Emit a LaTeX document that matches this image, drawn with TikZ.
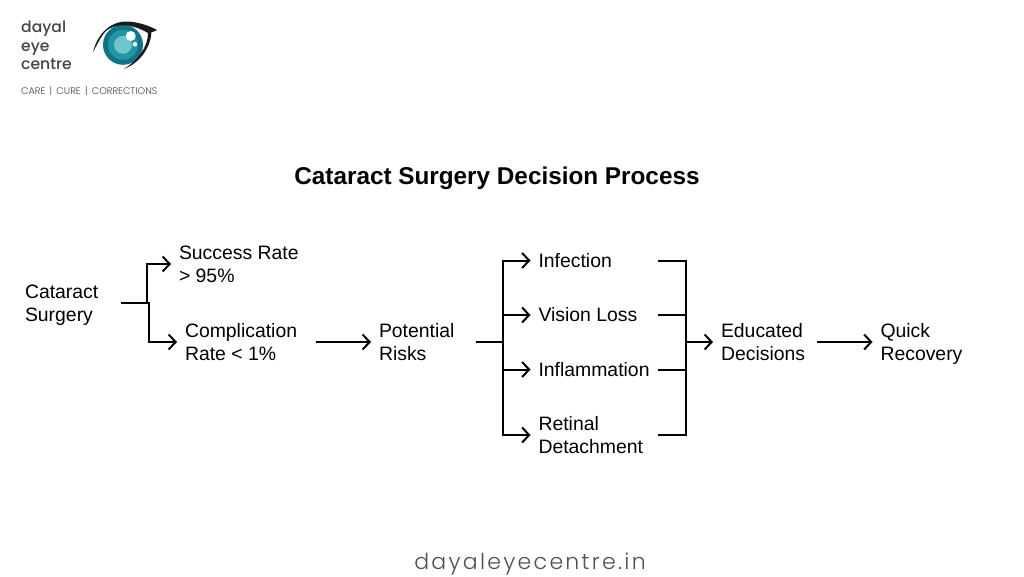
\documentclass[tikz,border=0pt]{standalone}
\usepackage{fontspec}
\setmainfont{Liberation Sans}
\newfontfamily\logofont{Poppins Medium}
\newfontfamily\tagfont{Poppins Light}
\newfontfamily\footfont[LetterSpace=10.5]{Poppins Light}
\usetikzlibrary{arrows.meta}
\definecolor{logogray}{HTML}{454545}
\definecolor{footgray}{HTML}{505050}
\definecolor{irisdark}{HTML}{0F7486}
\definecolor{irismid}{HTML}{2396A6}
\definecolor{irislight}{HTML}{6CC6CA}
\definecolor{lidblack}{HTML}{1A1A1A}
\tikzset{
  lbl/.style={inner sep=0pt,outer sep=0pt,anchor=west,align=left,font=\fontsize{19.4}{23}\selectfont,text=black},
  conn/.style={draw=black,line width=2pt},
  arr/.style={conn,-{Straight Barb[length=7pt,width=15pt,line width=2pt]}},
  logotxt/.style={inner sep=0pt,anchor=base west,text=logogray,font=\logofont\fontsize{15.6}{15}\selectfont}
}
\begin{document}
\begin{tikzpicture}[x=1pt,y=-1pt]
\useasboundingbox (0,0) rectangle (1024,576);
\fill[white] (0,0) rectangle (1024,576);
% logo
\node[logotxt] (l1) at (21,32) {dayal};
\node[logotxt] (l2) at (21,51) {eye};
\node[logotxt] (l3) at (21,69) {centre};
\node[inner sep=0pt,anchor=base west,text=logogray,font=\tagfont\fontsize{9.65}{10}\selectfont] (tag) at (21,94) {CARE \,|\, CURE \,|\, CORRECTIONS};
% eye
\fill[irisdark] (123,44.8) circle (20);
\fill[irismid] (123,44.8) circle (15);
\fill[irislight] (123,44.8) circle (9);
\fill[white] (130.7,36) circle (5);
\fill[white] (135,44.3) circle (2.2);
\fill[lidblack] (93,52) .. controls (97,36) and (108,22) .. (126,21.5) .. controls (136,21.5) and (148,25) .. (157,30)
  .. controls (155,31.5) and (153,32) .. (151.5,32) .. controls (151,45) and (142,62) .. (124,69) .. controls (138,60) and (148,47) .. (148,33)
  .. controls (138,27) and (120,20) .. (106,31) .. controls (101,36) and (97,45) .. (93,52) -- cycle;
% title
\node[inner sep=0pt,font=\bfseries\fontsize{24.3}{30}\selectfont] (title) at (497,178.5) {Cataract Surgery Decision Process};
% nodes
\node[lbl] (cat) at (25,305) {Cataract\\Surgery};
\node[lbl] (suc) at (179,264) {Success Rate\\> 95\%};
\node[lbl] (com) at (185,342) {Complication\\Rate < 1\%};
\node[lbl] (pot) at (379,342) {Potential\\Risks};
\node[lbl] (inf) at (538.5,260.5) {Infection};
\node[lbl] (vis) at (538.5,315) {Vision Loss};
\node[lbl] (ifl) at (538.5,369.5) {Inflammation};
\node[lbl] (ret) at (538.5,435) {Retinal\\Detachment};
\node[lbl] (edu) at (721,342) {Educated\\Decisions};
\node[lbl] (qui) at (880.5,344) {Quick\\Recovery};
% connectors
\coordinate (a) at ([xshift=23pt,yshift=2pt]cat.east);
\draw[arr] (a) -| (147,264) -- ([xshift=-8pt]suc.west);
\draw[arr] (a) -| (149,342) -- ([xshift=-8pt]com.west);
\draw[arr] ([xshift=19pt]com.east) -- ([xshift=-8pt]pot.west);
\coordinate (b) at ([xshift=21pt]pot.east);
\coordinate (bb) at (503,342);
\draw[conn] (b) -- (bb);
\draw[arr] (bb) |- ([xshift=-8pt]inf.west);
\draw[arr] (bb) |- ([xshift=-8pt]vis.west);
\draw[arr] (bb) |- ([xshift=-8pt]ifl.west);
\draw[arr] (bb) |- ([xshift=-8pt]ret.west);
\coordinate (c) at (686,342);
\draw[conn] ([xshift=8pt]ifl.east |- inf.east) -| (c);
\draw[conn] ([xshift=8pt]ifl.east |- vis.east) -| (c);
\draw[conn] ([xshift=8pt]ifl.east) -| (c);
\draw[conn] ([xshift=8pt]ifl.east |- ret.east) -| (c);
\draw[arr] (c) -- ([xshift=-8pt]edu.west);
\draw[arr] ([xshift=12pt]edu.east) -- ([xshift=-8pt,yshift=2pt]qui.west);
% footer
\node[inner sep=0pt,text=footgray,font=\footfont\fontsize{22}{28}\selectfont] (foot) at (530,564) {dayaleyecentre.in};
\end{tikzpicture}
\end{document}
